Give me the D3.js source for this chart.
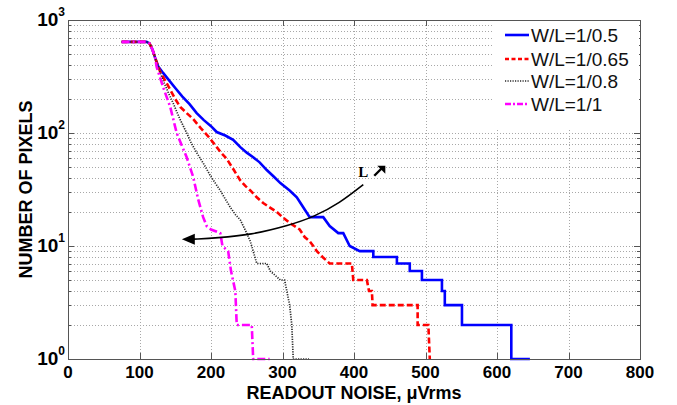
<!DOCTYPE html>
<html>
<head>
<meta charset="utf-8">
<script src="https://cdn.jsdelivr.net/npm/d3@7"></script>
<style>
  html, body { margin: 0; padding: 0; background: #fff; }
  svg { display: block; font-family: "Liberation Sans", Arial, sans-serif; }
</style>
</head>
<body>
<div id="chart"></div>
<script>
// readout noise distribution, cumulative pixel counts per W/L

// series: noise (uVrms) and number of pixels
const blueNoise = [75,110,114,118,122,126,133,140,150,160,170,180,190,200,208,220,231,241,250,259,268,278,288,297,310,320,329,338,357,366,378,385,394,408,427,427,460,460,478,478,495,495,523,523,527,527,551,551,620,620,646];
const blueCount = [640,640,620,550,460,390,340,300,250,210,180,150,130,115,102,95,87,75,67,61,55,47,41,36,31,27,22,18,18,15,13,13,10,9,9,8,8,7,7,6,6,5,5,4,4,3,3,2,2,1,1];

const redNoise = [75,110,114,118,122,126,129,136,143,150,157,166,175,186,197,208,215,222,232,241,248,255,264,273,282,292,300,310,317,324,331,338,343,348,356,366,397,399,418,421,425,426,489,489,504,506];
const redCount = [640,640,620,550,460,390,347,290,241,200,170,150,133,110,92,75,66,59,47,38,34,31,27,24,22,20,18,16,15,14,12,11,10,9,8,7,7,5,5,4,4,3,3,2,2,1];

const blackNoise = [75,110,114,118,122,126,133,140,147,156,166,173,180,190,199,206,213,220,227,234,241,250,255,259,264,278,283,297,303,306,310,313,315,337];
const blackCount = [640,640,620,550,460,390,290,230,184,135,100,80,67,53,42,36,31,26,22,19,17,13,11,9,7,7,6,5,5,4,3,2,1,1];

const magNoise = [75,110,114,118,122,124,133,143,152,159,166,175,182,189,194,200,213,216,224,228,234,236,257,259,282];
const magCount = [640,640,620,550,460,384,255,170,100,78,61,41,26,18,15,14,13,10,9,6,4,2,2,1,1];

const seriesNames = ["W/L=1/0.5", "W/L=1/0.65", "W/L=1/0.8", "W/L=1/1"];
const xTicks = [0, 100, 200, 300, 400, 500, 600, 700, 800];
const yDecades = [0, 1, 2, 3];

// annotation arrow (noise, count)
const arrowNoise = [413, 380, 343, 310, 255, 208, 176];
const arrowCount = [35, 24, 18, 15.3, 12.5, 11.8, 11.5];

const width = 677, height = 405;
const margin = { top: 20, right: 37, bottom: 46, left: 68 };

const svg = d3.select("#chart").append("svg")
  .attr("width", width)
  .attr("height", height);

const x = d3.scaleLinear().domain([0, 800]).range([margin.left, width - margin.right]);
const y = d3.scaleLog().domain([1, 1000]).range([height - margin.bottom, margin.top]);

const x0 = x.range()[0], x1 = x.range()[1];
const y0 = y.range()[0], y1 = y.range()[1];

// grid
const minorY = [];
for (let e = 0; e < 3; e++) {
  for (let m = 1; m < 10; m++) {
    const v = m * Math.pow(10, e);
    if (v > 1) minorY.push(v);
  }
}

const grid = svg.append("g")
  .attr("stroke", "#a8a8a8")
  .attr("stroke-width", 1)
  .attr("stroke-dasharray", "1,2");

grid.selectAll("line.h")
  .data(minorY)
  .join("line")
  .attr("class", "h")
  .attr("x1", x0).attr("x2", x1)
  .attr("y1", d => Math.round(y(d)) + 0.5)
  .attr("y2", d => Math.round(y(d)) + 0.5);

grid.selectAll("line.v")
  .data(xTicks.slice(1, -1))
  .join("line")
  .attr("class", "v")
  .attr("y1", y0).attr("y2", y1)
  .attr("x1", d => Math.round(x(d)) + 0.5)
  .attr("x2", d => Math.round(x(d)) + 0.5);

// tick marks (inside, all four sides)
const ticks = svg.append("g").attr("stroke", "#555").attr("stroke-width", 1);
minorY.concat([1000]).forEach(v => {
  const py = Math.round(y(v)) + 0.5;
  const len = Number.isInteger(Math.log10(v)) ? 6 : 3;
  ticks.append("line").attr("x1", x0).attr("x2", x0 + len).attr("y1", py).attr("y2", py);
  ticks.append("line").attr("x1", x1).attr("x2", x1 - len).attr("y1", py).attr("y2", py);
});
xTicks.forEach(v => {
  const px = Math.round(x(v)) + 0.5;
  ticks.append("line").attr("x1", px).attr("x2", px).attr("y1", y0).attr("y2", y0 - 6);
  ticks.append("line").attr("x1", px).attr("x2", px).attr("y1", y1).attr("y2", y1 + 6);
});

// curves
const line = d3.line()
  .x(d => x(d[0]))
  .y(d => y(d[1]));

const series = [
  { noise: blueNoise, count: blueCount, color: "#0000ff", width: 2.6, dash: null, legendDash: null },
  { noise: redNoise, count: redCount, color: "#ff0000", width: 2.6, dash: "6,3", legendDash: "4,2.5" },
  { noise: blackNoise, count: blackCount, color: "#2a2a2a", width: 1.7, dash: "1.2,1.3", legendDash: "1.2,1.3" },
  { noise: magNoise, count: magCount, color: "#ff00ff", width: 2.6, dash: "8,3,2,3", legendDash: "6,2,2,2" }
];

const plot = svg.append("g");

plot.selectAll("path")
  .data(series)
  .join("path")
  .attr("d", s => line(d3.zip(s.noise, s.count)))
  .attr("fill", "none")
  .attr("stroke", s => s.color)
  .attr("stroke-width", s => s.width)
  .attr("stroke-dasharray", s => s.dash)
  .attr("stroke-linejoin", "miter");

// axes box
svg.append("rect")
  .attr("x", x0 + 0.5).attr("y", y1 + 0.5)
  .attr("width", x1 - x0).attr("height", y0 - y1)
  .attr("fill", "none")
  .attr("stroke", "#555")
  .attr("stroke-width", 1);

// annotation arrow
const arrowPts = d3.zip(arrowNoise, arrowCount).map(d => [x(d[0]), y(d[1])]);
svg.append("path")
  .attr("d", d3.line().curve(d3.curveBasis)(arrowPts))
  .attr("fill", "none")
  .attr("stroke", "#000")
  .attr("stroke-width", 1.6);
const tip = arrowPts[arrowPts.length - 1];
svg.append("path")
  .attr("d", `M${tip[0] - 12},${tip[1]} L${tip[0] + 1},${tip[1] - 5.5} L${tip[0] + 1},${tip[1] + 5.5} Z`)
  .attr("fill", "#000");

// "L" label with small up-right arrow
const lx = x(406), ly = y(41);
svg.append("text")
  .attr("x", lx).attr("y", ly)
  .attr("font-family", "Liberation Serif, Times New Roman, serif")
  .attr("font-weight", "bold")
  .attr("font-size", 15)
  .text("L");
svg.append("line")
  .attr("x1", lx + 16).attr("y1", ly - 1)
  .attr("x2", lx + 24).attr("y2", ly - 9)
  .attr("stroke", "#000").attr("stroke-width", 2.4);
svg.append("path")
  .attr("d", `M${lx + 19},${ly - 11} L${lx + 27},${ly - 11} L${lx + 27},${ly - 3} Z`)
  .attr("fill", "#000");

// legend
const legend = svg.append("g");
legend.append("rect")
  .attr("x", x(600) - 5).attr("y", y1 + 1)
  .attr("width", x1 - x(600) + 4).attr("height", 108)
  .attr("fill", "#fff");
const rowY = [35, 59, 81, 104];
series.forEach((s, i) => {
  legend.append("line")
    .attr("x1", 505).attr("x2", 529)
    .attr("y1", rowY[i]).attr("y2", rowY[i])
    .attr("stroke", s.color)
    .attr("stroke-width", s.width)
    .attr("stroke-dasharray", s.legendDash);
  legend.append("text")
    .attr("x", 531).attr("y", rowY[i])
    .attr("dy", "0.36em")
    .attr("font-size", 19)
    .attr("fill", "#111")
    .text(seriesNames[i]);
});

// x tick labels
svg.append("g").selectAll("text")
  .data(xTicks)
  .join("text")
  .attr("x", d => x(d))
  .attr("y", y0 + 19)
  .attr("text-anchor", "middle")
  .attr("font-size", 17)
  .attr("font-weight", "bold")
  .text(d => d);

// y tick labels 10^n
const yl = svg.append("g").selectAll("text")
  .data(yDecades)
  .join("text")
  .attr("x", x0 - 3)
  .attr("y", d => y(Math.pow(10, d)) + 6)
  .attr("text-anchor", "end")
  .attr("font-weight", "bold");
yl.append("tspan").attr("font-size", 19).text("10");
yl.append("tspan").attr("font-size", 12).attr("dy", -10).text(d => d);

// axis titles
svg.append("text")
  .attr("x", (x0 + x1) / 2)
  .attr("y", 399)
  .attr("text-anchor", "middle")
  .attr("font-size", 18)
  .attr("font-weight", "bold")
  .text("READOUT NOISE, μVrms");

svg.append("text")
  .attr("transform", `translate(32,${(y0 + y1) / 2}) rotate(-90)`)
  .attr("text-anchor", "middle")
  .attr("font-size", 18)
  .attr("font-weight", "bold")
  .text("NUMBER OF PIXELS");
</script>
</body>
</html>
